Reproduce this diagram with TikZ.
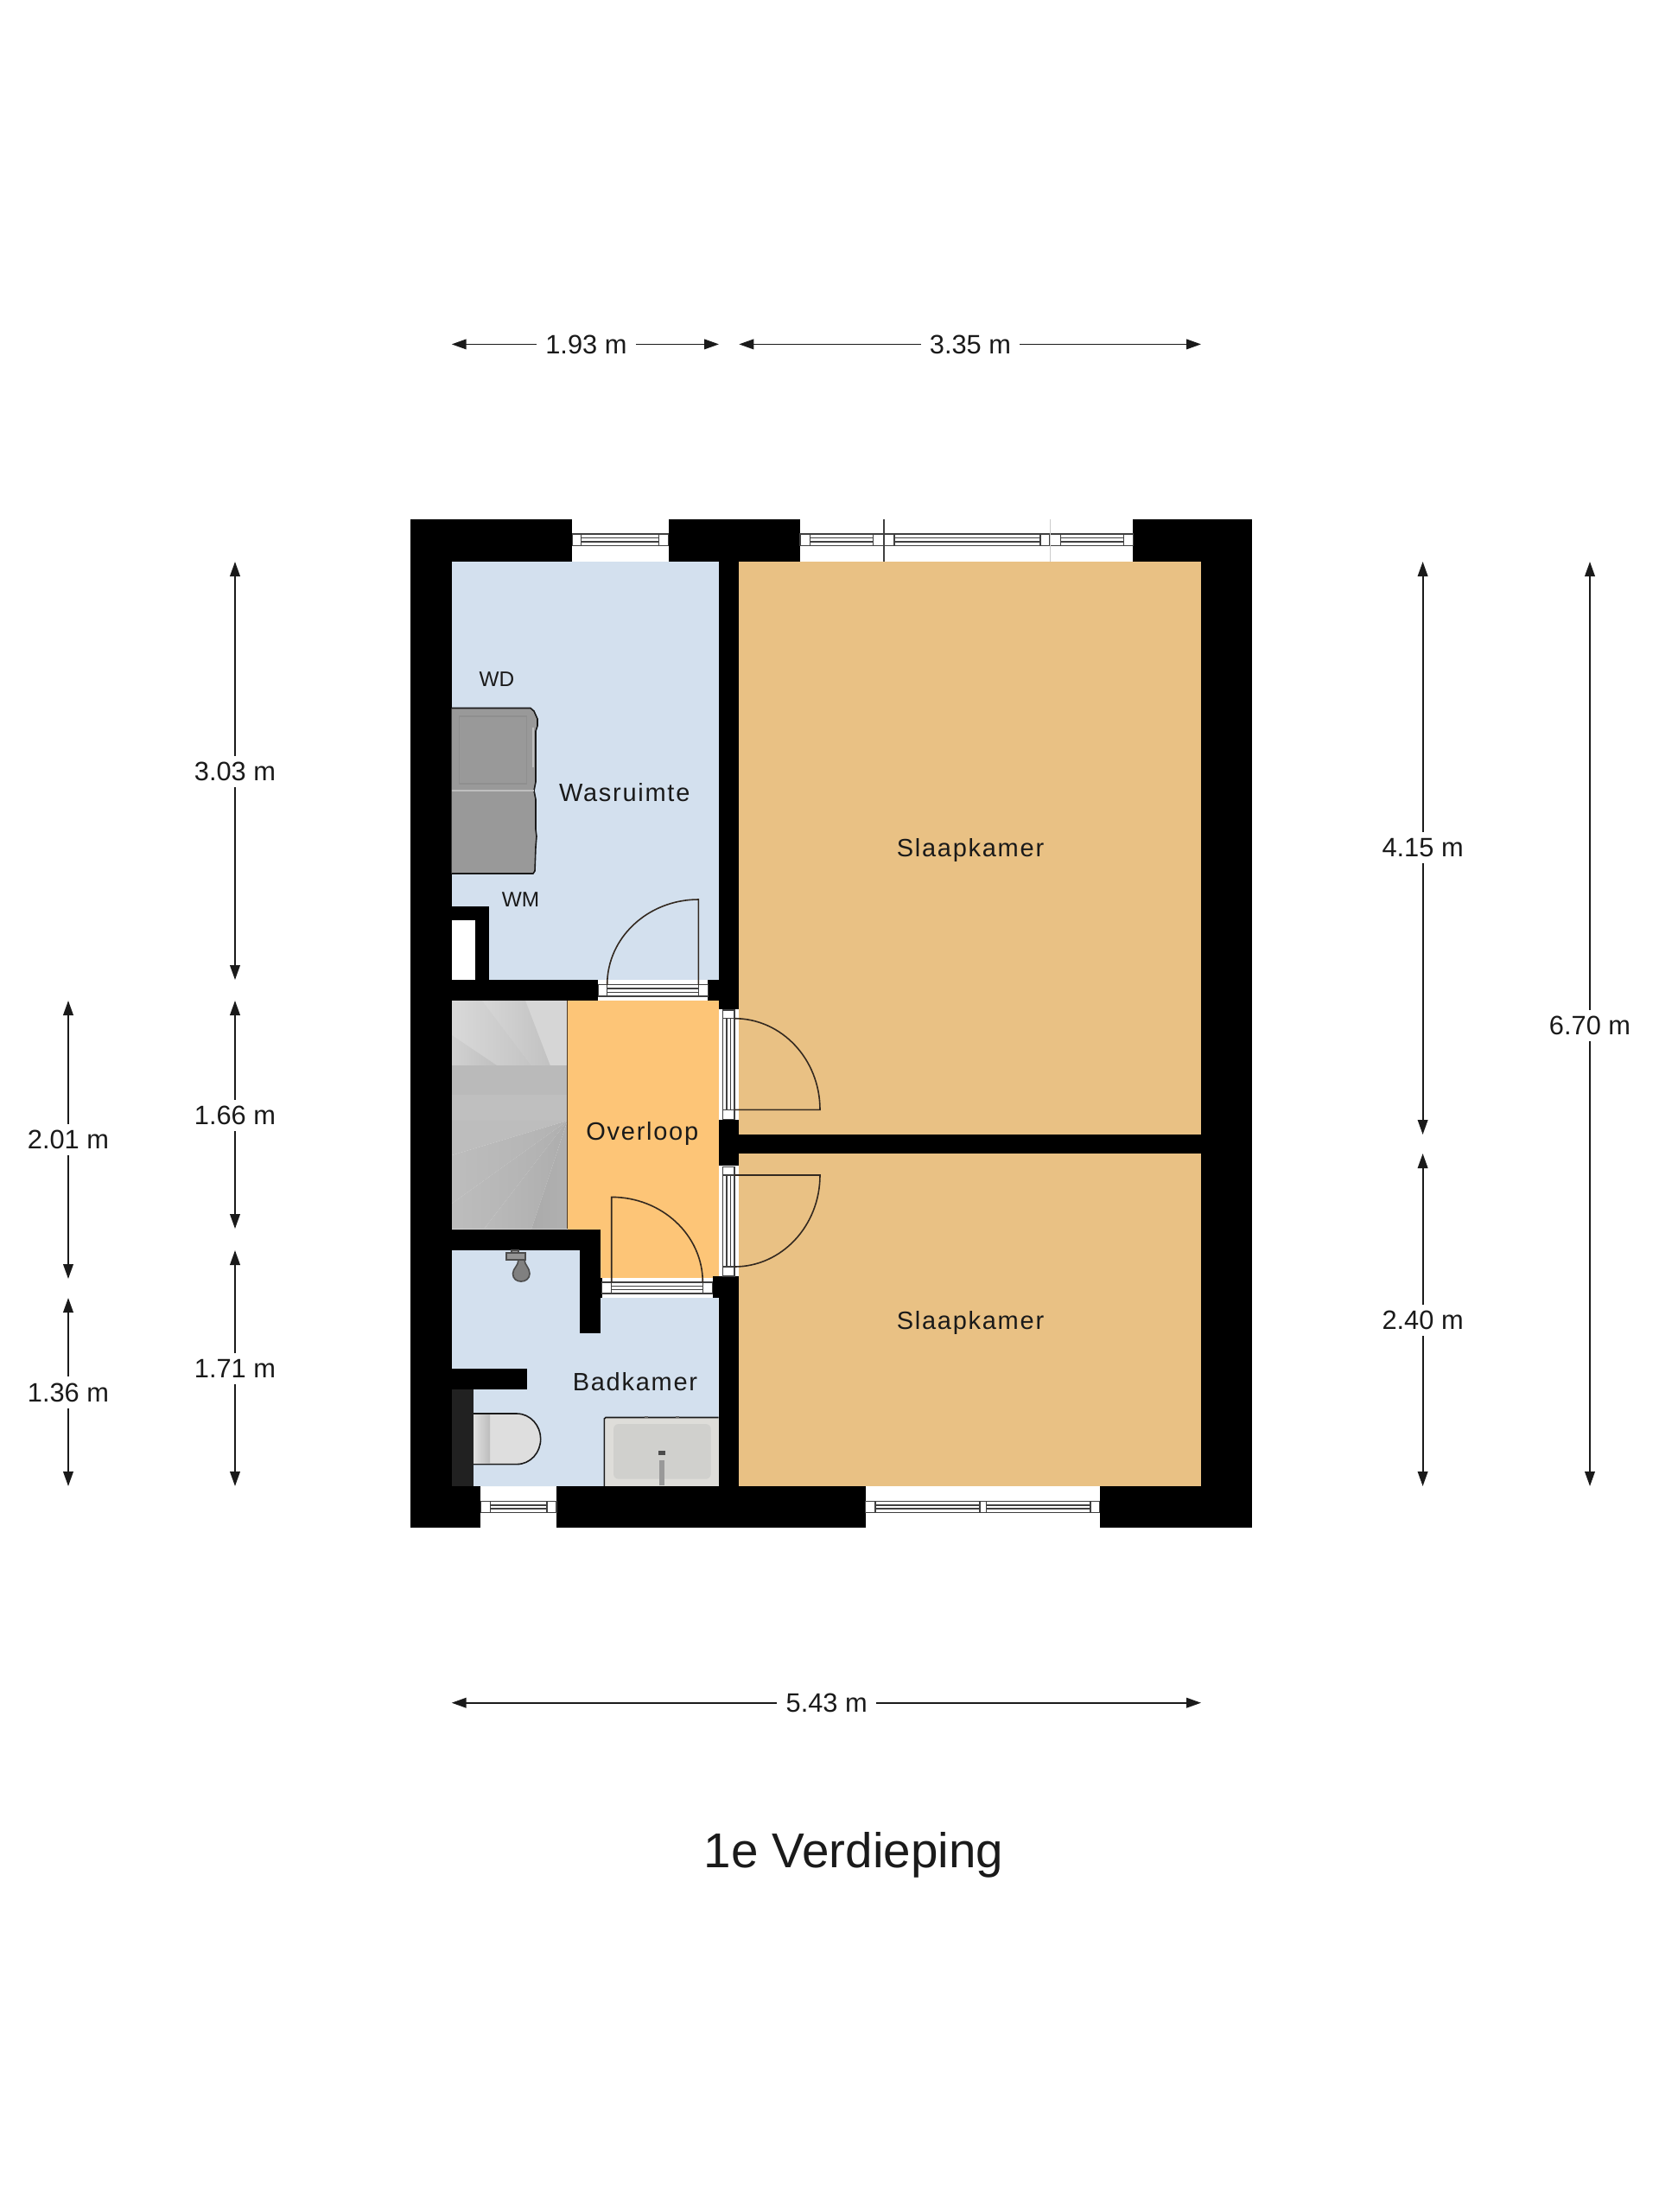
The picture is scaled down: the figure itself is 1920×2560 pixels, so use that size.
\documentclass[tikz,border=0pt]{standalone}
\usepackage{fontspec}
\setmainfont{Liberation Sans}
\newfontfamily\roomfont[LetterSpace=6]{Liberation Sans}
\usetikzlibrary{arrows.meta}
\definecolor{roomblue}{HTML}{D3E0EE}
\definecolor{landing}{HTML}{FDC577}
\definecolor{bedroom}{HTML}{E9C184}
\definecolor{ink}{HTML}{1A1A1A}
\definecolor{framegray}{HTML}{404040}
\definecolor{basinouter}{HTML}{DEDDD9}
\definecolor{basininner}{HTML}{D0D0CD}
\tikzset{
  wall/.style={fill=black,draw=none},
  room/.style={draw=none},
  frameline/.style={draw=framegray,line width=0.75pt},
  framebox/.style={draw=framegray,fill=white,line width=0.75pt},
  leaf/.style={draw=ink!85!brown,line width=0.8pt},
  roomlabel/.style={font=\roomfont\fontsize{14.5}{16}\selectfont,text=ink,inner sep=0pt},
  applabel/.style={font=\fontsize{12.2}{14}\selectfont,text=ink,inner sep=0pt},
  dimlabel/.style={font=\fontsize{15.4}{17}\selectfont,text=ink,fill=white,inner xsep=5pt,inner ysep=3.5pt},
  dimline/.style={draw=ink,line width=0.9pt,-{Triangle[length=8.5pt,width=5.8pt]}},
  titlelabel/.style={font=\fontsize{28.3}{32}\selectfont,text=ink,inner sep=0pt}
}
% horizontal and vertical four-line frames of doors and windows
\newcommand{\hframelines}[4]{\foreach \t in {0,1,2,3}{\draw[frameline] (#1,{#3+(#4-#3)*\t/3}) -- (#2,{#3+(#4-#3)*\t/3});}}
\newcommand{\vframelines}[4]{\foreach \t in {0,1,2,3}{\draw[frameline] ({#1+(#2-#1)*\t/3},#3) -- ({#1+(#2-#1)*\t/3},#4);}}
\begin{document}
\begin{tikzpicture}[x=0.5pt,y=-0.5pt]
\useasboundingbox (0,0) rectangle (1920,2560);
\fill[white] (0,0) rectangle (1920,2560);

% rooms
\fill[roomblue] (522.7,650) rectangle (831.7,1134);
\fill[landing] (656.7,1158) rectangle (831.7,1479);
\fill[roomblue] (522.7,1447) -- (695,1447) -- (695,1502) -- (831.7,1502) -- (831.7,1720) -- (522.7,1720) -- cycle;
\fill[bedroom] (855.3,650) rectangle (1390,1313);
\fill[bedroom] (855.3,1335) rectangle (1390,1720);

% stairs
\fill[black!16] (522.7,1158) rectangle (656.7,1233);
\shade[left color=black!15,right color=black!23] (522.7,1158) -- (558,1158) -- (615,1233) -- (575,1233) -- (522.7,1198) -- cycle;
\shade[left color=black!16,right color=black!24] (558,1158) -- (608,1158) -- (636.7,1233) -- (615,1233) -- cycle;
\shade[left color=black!18,right color=black!25] (522.7,1198) -- (575,1233) -- (522.7,1233) -- cycle;
\fill[black!27] (522.7,1233) rectangle (656.7,1267);
\fill[black!25] (522.7,1267) rectangle (656.7,1297);
\fill[black!26] (522.7,1297) -- (656.7,1297) -- (522.7,1337) -- cycle;
\shade[left color=black!26,right color=black!30] (522.7,1337) -- (656.7,1297) -- (522.7,1393) -- cycle;
\shade[left color=black!26,right color=black!31] (522.7,1393) -- (656.7,1297) -- (560,1422.5) -- (522.7,1422.5) -- cycle;
\shade[left color=black!27,right color=black!32] (560,1422.5) -- (656.7,1297) -- (615,1422.5) -- cycle;
\shade[left color=black!33,right color=black!31] (615,1422.5) -- (656.7,1297) -- (656.7,1422.5) -- cycle;
\draw[draw=ink!70!brown,line width=0.7pt] (656.7,1158) -- (656.7,1422);

% walls
\fill[wall] (474.5,600.5) rectangle (522.7,1768);
\fill[wall] (474.5,600.5) rectangle (662,650);
\fill[wall] (774,600.5) rectangle (926,650);
\fill[wall] (1311.4,600.5) rectangle (1449,650);
\fill[wall] (1390,600.5) rectangle (1449,1768);
\fill[wall] (831.7,600.5) rectangle (855.3,1168);
\fill[wall] (819.3,1134) rectangle (855.3,1158);
\fill[wall] (522.7,1134) rectangle (691.7,1158);
\fill[wall] (522.7,1048.8) rectangle (566,1134);
\fill[white] (522.7,1065) rectangle (550,1134);
\fill[wall] (831.7,1295.7) rectangle (855.3,1349.3);
\fill[wall] (855.3,1312.5) rectangle (1390,1335);
\fill[wall] (522.7,1422.5) rectangle (695,1447);
\fill[wall] (670.7,1422.5) rectangle (695,1543);
\fill[wall] (695,1479) rectangle (697,1502);
\fill[wall] (825,1477.3) rectangle (855.3,1502);
\fill[wall] (831.7,1477.3) rectangle (855.3,1768);
\fill[wall] (522.7,1584) rectangle (609.5,1607.5);
\fill[wall] (474.5,1720) rectangle (556,1768);
\fill[wall] (644,1720) rectangle (1001.6,1768);
\fill[wall] (1272.5,1720) rectangle (1449,1768);

% windows, top
\hframelines{672.7}{762.7}{618}{631.7}
\draw[framebox] (662.7,618) rectangle (672.7,631.7);
\draw[framebox] (762.7,618) rectangle (773.5,631.7);
\hframelines{937.7}{1010.3}{618}{631.7}
\hframelines{1035}{1204}{618}{631.7}
\hframelines{1227.4}{1300.3}{618}{631.7}
\draw[framebox] (926,618) rectangle (937.7,631.7);
\draw[framebox] (1010.3,618) rectangle (1022.8,631.7);
\draw[framebox] (1022.8,618) rectangle (1035,631.7);
\draw[framebox] (1204,618) rectangle (1215.2,631.7);
\draw[framebox] (1215.2,618) rectangle (1227.4,631.7);
\draw[framebox] (1300.3,618) rectangle (1311.4,631.7);
\draw[draw=framegray,line width=0.8pt] (1022.8,600.5) -- (1022.8,650);
\draw[draw=black!20,line width=0.5pt] (1215.2,600.5) -- (1215.2,650);

% windows, bottom
\hframelines{567.5}{633.2}{1737.5}{1750.5}
\draw[framebox] (556.5,1737.5) rectangle (567.5,1750.5);
\draw[framebox] (633.2,1737.5) rectangle (644,1750.5);
\hframelines{1013}{1134.2}{1737.5}{1750.5}
\hframelines{1141.6}{1262.2}{1737.5}{1750.5}
\draw[framebox] (1001.6,1737.5) rectangle (1013,1750.5);
\draw[framebox] (1134.2,1737.5) rectangle (1141.6,1750.5);
\draw[framebox] (1262.2,1737.5) rectangle (1272.5,1750.5);

% door Wasruimte
\hframelines{702.7}{808.3}{1139.5}{1153}
\draw[framebox] (692.3,1139.5) rectangle (702.7,1153);
\draw[framebox] (808.3,1139.5) rectangle (819.3,1153);
\draw[leaf] (702.7,1139.5) .. controls (702.7,1085.1) and (750,1041) .. (808.3,1041) -- (808.3,1139.5);

% door Badkamer
\hframelines{707.7}{813.3}{1484}{1497}
\draw[framebox] (696.7,1484) rectangle (707.7,1497);
\draw[framebox] (813.3,1484) rectangle (824.3,1497);
\draw[leaf] (707.7,1484) -- (707.7,1385.4) .. controls (766,1385.4) and (813.3,1429.5) .. (813.3,1484);

% doors Slaapkamer
\vframelines{836.7}{850}{1178.7}{1284.3}
\draw[framebox] (836.7,1169) rectangle (850,1178.7);
\draw[framebox] (836.7,1284.3) rectangle (850,1295.3);
\draw[leaf] (850,1178.7) .. controls (904.7,1178.7) and (949,1226) .. (949,1284.3) -- (850,1284.3);
\vframelines{836.7}{850}{1360}{1466}
\draw[framebox] (836.7,1350.3) rectangle (850,1360);
\draw[framebox] (836.7,1466) rectangle (850,1477);
\draw[leaf] (850,1360) -- (949,1360) .. controls (949,1418.5) and (904.7,1466) .. (850,1466);

% washer and dryer
\draw[fill=black!40,draw=ink,line width=0.8pt] (522.7,819.5) -- (614,819.5) -- (618,823) -- (622,832) -- (622,840) -- (620,846) -- (620,905) -- (618,915) -- (620,925) -- (620,960) -- (621,968) -- (620,980) -- (619,1008) -- (617,1011) -- (522.7,1011);
\draw[draw=black!44,line width=0.7pt] (531.7,829) rectangle (609.3,907);
\draw[draw=black!25,line width=1pt] (522.7,915) -- (618,915);
\draw[draw=black!25,line width=0.8pt] (617,842) -- (617,888);

% shower tap
\draw[fill=black!40,draw=black!70,line width=0.7pt] (592,1447) rectangle (600,1452);
\draw[fill=black!42,draw=black!70,line width=0.7pt] (586,1450) rectangle (608,1458);
\draw[fill=black!50,draw=black!70,line width=0.8pt] (600,1458) -- (607,1458) .. controls (607,1464) and (613,1467) .. (613,1474) .. controls (613,1480) and (608,1483) .. (603,1483) .. controls (598,1483) and (593.5,1480) .. (593.5,1474) .. controls (593.5,1468) and (600,1465) .. (600,1458) -- cycle;

% toilet
\fill[black!87] (522.7,1608) rectangle (548,1720);
\draw[fill=black!13,draw=ink,line width=0.8pt] (548,1636) -- (598,1636) .. controls (614,1636) and (625.7,1650) .. (625.7,1665.3) .. controls (625.7,1681) and (614,1694.6) .. (598,1694.6) -- (548,1694.6);
\shade[left color=black!12,right color=black!26] (548,1637) rectangle (567,1693.6);

% basin
\fill[basinouter] (700,1641) rectangle (831.7,1720);
\draw[draw=ink,line width=0.8pt] (699.3,1720) -- (699.3,1642) -- (701,1640.5) -- (831.7,1640.5);
\fill[basininner,rounded corners=3pt] (710,1648) rectangle (822.7,1711.7);
\fill[black!70] (762,1678.5) rectangle (770,1683.5);
\fill[black!40] (763,1690) rectangle (768.5,1719);
\fill[black!60] (745.7,1639) rectangle (749.7,1640.5);
\fill[black!60] (782,1639) rectangle (786,1640.5);

% room labels
\node[roomlabel] (wasruimte) at (722.7,917.5) {Wasruimte};
\node[roomlabel] (overloop) at (743.3,1311.5) {Overloop};
\node[roomlabel] (badkamer) at (735,1599) {Badkamer};
\node[roomlabel] (slaap1) at (1123,984) {Slaapkamer};
\node[roomlabel] (slaap2) at (1123,1531) {Slaapkamer};
\node[applabel] (wd) at (575,786.5) {WD};
\node[applabel] (wm) at (602.5,1041.5) {WM};

% dimension end points
\coordinate (a1l) at (522.7,398.4); \coordinate (a1r) at (832,398.4);
\coordinate (a2l) at (855.3,398.4); \coordinate (a2r) at (1390,398.4);
\coordinate (a3l) at (522.7,1970.7); \coordinate (a3r) at (1390,1970.7);
\coordinate (b1t) at (272,650); \coordinate (b1b) at (272,1134);
\coordinate (b2t) at (272,1158); \coordinate (b2b) at (272,1422);
\coordinate (b3t) at (272,1447); \coordinate (b3b) at (272,1720);
\coordinate (c1t) at (79,1158); \coordinate (c1b) at (79,1480);
\coordinate (c2t) at (79,1502); \coordinate (c2b) at (79,1720);
\coordinate (d1t) at (1646.6,650); \coordinate (d1b) at (1646.6,1313);
\coordinate (d2t) at (1646.6,1335); \coordinate (d2b) at (1646.6,1720);
\coordinate (e1t) at (1840,650); \coordinate (e1b) at (1840,1720);

% dimensions
\node[dimlabel] (la1) at (678.4,398.4) {1.93 m};
\node[dimlabel] (la2) at (1123,398.4) {3.35 m};
\node[dimlabel] (la3) at (956.7,1970.7) {5.43 m};
\node[dimlabel] (lb1) at (272,893) {3.03 m};
\node[dimlabel] (lb2) at (272,1291) {1.66 m};
\node[dimlabel] (lb3) at (272,1584) {1.71 m};
\node[dimlabel] (lc1) at (79,1319) {2.01 m};
\node[dimlabel] (lc2) at (79,1611.5) {1.36 m};
\node[dimlabel] (ld1) at (1646.6,981) {4.15 m};
\node[dimlabel] (ld2) at (1646.6,1528) {2.40 m};
\node[dimlabel] (le1) at (1840,1187) {6.70 m};
\foreach \lab/\p/\q in {la1/a1l/a1r,la2/a2l/a2r,la3/a3l/a3r,lb1/b1t/b1b,lb2/b2t/b2b,lb3/b3t/b3b,lc1/c1t/c1b,lc2/c2t/c2b,ld1/d1t/d1b,ld2/d2t/d2b,le1/e1t/e1b}{
  \draw[dimline] (\lab) -- (\p);
  \draw[dimline] (\lab) -- (\q);
}

% title
\node[titlelabel] (title) at (988,2147) {1e Verdieping};
\end{tikzpicture}
\end{document}
